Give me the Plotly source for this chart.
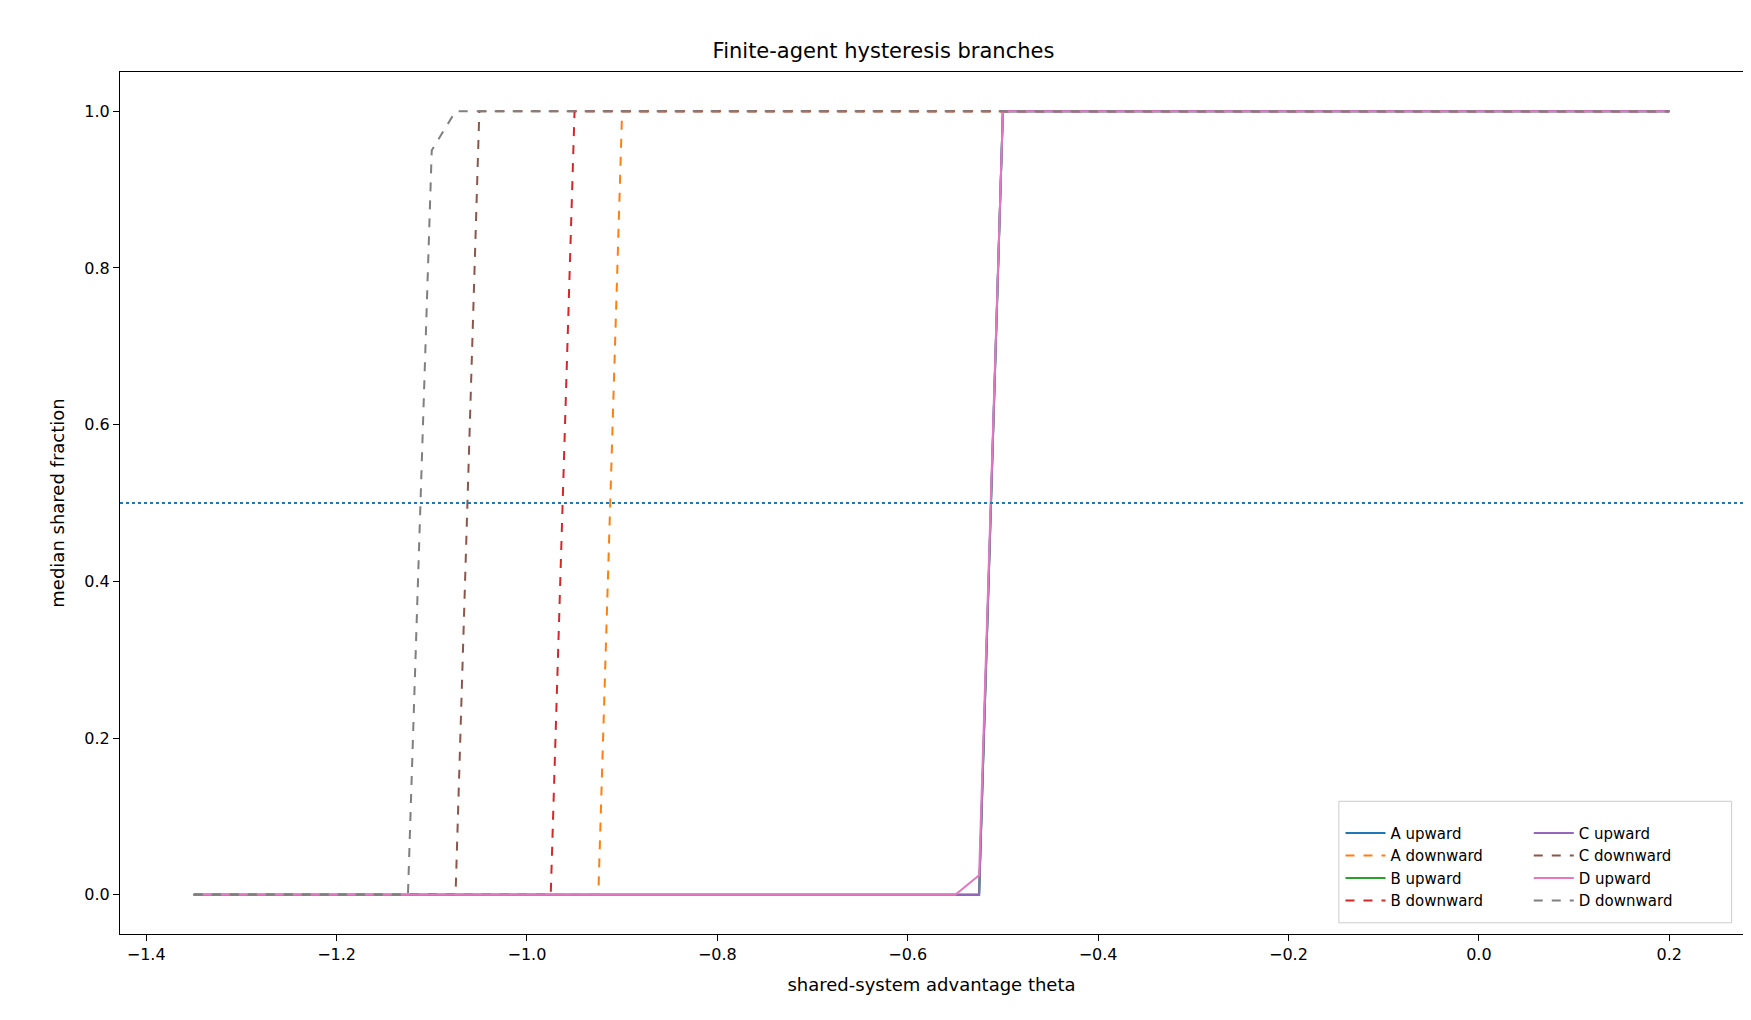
import plotly.graph_objects as go

names = ["A upward", "A downward", "B upward", "B downward", "C upward", "C downward", "D upward", "D downward"]
colors = ["#1f77b4", "#ff7f0e", "#2ca02c", "#d62728", "#9467bd", "#8c564b", "#e377c2", "#7f7f7f"]
dashes = ["solid", "dash"] * 4
xs = [
    [-1.35, -0.525, -0.5, 0.2],
    [-1.35, -0.925, -0.9, 0.2],
    [-1.35, -0.525, -0.5, 0.2],
    [-1.35, -0.975, -0.95, 0.2],
    [-1.35, -0.525, -0.5, 0.2],
    [-1.35, -1.075, -1.05, 0.2],
    [-1.35, -0.55, -0.525, -0.5, 0.2],
    [-1.35, -1.125, -1.1, -1.075, 0.2],
]
ys = [
    [0, 0, 1, 1],
    [0, 0, 1, 1],
    [0, 0, 1, 1],
    [0, 0, 1, 1],
    [0, 0, 1, 1],
    [0, 0, 1, 1],
    [0, 0, 0.025, 1, 1],
    [0, 0, 0.95, 1, 1],
]
ref_line = 0.5

fig = go.Figure()
for i in range(8):
    fig.add_trace(go.Scatter(x=xs[i], y=ys[i], mode="lines", name=names[i],
                             line=dict(color=colors[i], dash=dashes[i], width=2),
                             legend="legend" if i < 4 else "legend2"))
fig.add_shape(type="line", xref="paper", yref="y", x0=0, x1=1, y0=ref_line, y1=ref_line,
              line=dict(color="#1f77b4", dash="dot", width=2))
fig.add_shape(type="rect", xref="paper", yref="paper", x0=0.751, x1=0.993, y0=0.013, y1=0.154,
              line=dict(color="#cccccc", width=1), fillcolor="white", layer="above")

axis = dict(showgrid=False, zeroline=False, showline=True, mirror=True, linecolor="black",
            ticks="outside", tickcolor="black", ticklen=6, tickfont=dict(size=16, color="black"))
leg = dict(yanchor="bottom", y=0.02, xanchor="left", bgcolor="rgba(0,0,0,0)",
           font=dict(size=15), tracegroupgap=0, itemwidth=40)
fig.update_layout(
    width=1751, height=1020, plot_bgcolor="white", paper_bgcolor="white",
    font=dict(family="DejaVu Sans", color="black"),
    title=dict(text="Finite-agent hysteresis branches", x=0.5, xanchor="center", y=0.965, font=dict(size=21)),
    margin=dict(l=112, r=16, t=64, b=94),
    xaxis=dict(axis, range=[-1.4275, 0.2775], tickvals=[-1.4, -1.2, -1.0, -0.8, -0.6, -0.4, -0.2, 0.0, 0.2],
               ticktext=["\u22121.4", "\u22121.2", "\u22121.0", "\u22120.8", "\u22120.6", "\u22120.4", "\u22120.2", "0.0", "0.2"],
               title=dict(text="shared-system advantage theta", font=dict(size=18))),
    yaxis=dict(axis, range=[-0.05, 1.05], tickvals=[0, 0.2, 0.4, 0.6, 0.8, 1.0], tickformat=".1f",
               title=dict(text="median shared fraction", font=dict(size=18))),
    legend=dict(leg, x=0.752),
    legend2=dict(leg, x=0.868),
)
fig.write_html("out.html")
